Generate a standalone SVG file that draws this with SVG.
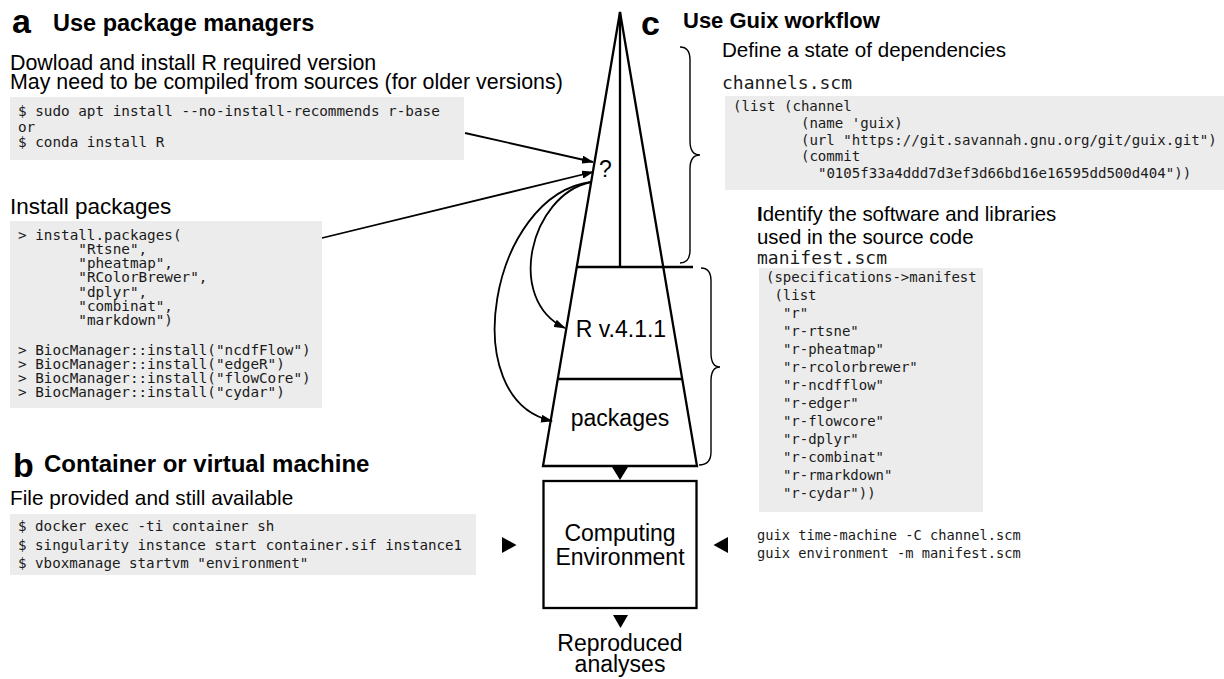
<svg xmlns="http://www.w3.org/2000/svg" width="1224" height="679" viewBox="0 0 1224 679">
<defs>
<style>
.sans{font-family:"Liberation Sans",Arial,Helvetica,sans-serif;fill:#000}
.head{font-family:"Liberation Sans",Arial,Helvetica,sans-serif;font-weight:bold;fill:#000}
.big{font-family:"Liberation Sans",Arial,Helvetica,sans-serif;font-weight:bold;font-size:34px;fill:#000}
.mono{font-family:"DejaVu Sans Mono","Liberation Mono",monospace;fill:#1a1a1a}
.code{fill:#ececec;stroke:none}
.ln{fill:none;stroke:#000;stroke-width:2.3}
.arr{fill:none;stroke:#000;stroke-width:1.8}
.brace{fill:none;stroke:#000;stroke-width:1.4}
.tri{fill:#000;stroke:none}
</style>
<marker id="ah" viewBox="0 0 12 8" refX="11" refY="4" markerWidth="12" markerHeight="8" markerUnits="userSpaceOnUse" orient="auto">
<path d="M0,0 L12,4 L0,8 z" fill="#000"/>
</marker>
</defs>

<g id="panel-a">
<text class="big" x="12" y="33">a</text>
<text class="head" x="53" y="31" font-size="23.5">Use package managers</text>
<text class="sans" x="10" y="70" font-size="21.4">Dowload and install R required version</text>
<text class="sans" x="10" y="89" font-size="21.4">May need to be compiled from sources (for older versions)</text>
</g>

<g id="code-r-install">
<rect class="code" x="10" y="97" width="454" height="63"/>
<text class="mono" font-size="14.3" x="18" y="116">$ sudo apt install --no-install-recommends r-base</text>
<text class="mono" font-size="14.3" x="18" y="131.5">or</text>
<text class="mono" font-size="14.3" x="18" y="147">$ conda install R</text>
</g>

<g id="install-packages">
<text class="sans" x="10" y="214" font-size="22.5">Install packages</text>
<rect class="code" x="10" y="221" width="312" height="187"/>
<g class="mono" font-size="14.3">
<text x="18" y="239.5">&gt; install.packages(</text>
<text x="78.3" y="253.8">"Rtsne",</text>
<text x="78.3" y="268.1">"pheatmap",</text>
<text x="78.3" y="282.4">"RColorBrewer",</text>
<text x="78.3" y="296.7">"dplyr",</text>
<text x="78.3" y="311">"combinat",</text>
<text x="78.3" y="325.3">"markdown")</text>
<text x="18" y="354.5">&gt; BiocManager::install("ncdfFlow")</text>
<text x="18" y="368.8">&gt; BiocManager::install("edgeR")</text>
<text x="18" y="383.1">&gt; BiocManager::install("flowCore")</text>
<text x="18" y="397.4">&gt; BiocManager::install("cydar")</text>
</g>
</g>

<g id="panel-b">
<text class="big" x="13" y="477">b</text>
<text class="head" x="44" y="472" font-size="24">Container or virtual machine</text>
<text class="sans" x="10" y="505" font-size="20.8">File provided and still available</text>
<rect class="code" x="10" y="514" width="466" height="61"/>
<text class="mono" font-size="14.2" x="18" y="531">$ docker exec -ti container sh</text>
<text class="mono" font-size="14.2" x="18" y="549.5">$ singularity instance start container.sif instance1</text>
<text class="mono" font-size="14.2" x="18" y="568">$ vboxmanage startvm "environment"</text>
</g>

<g id="panel-c">
<text class="big" x="641" y="35">c</text>
<text class="head" x="683" y="28" font-size="22">Use Guix workflow</text>
<text class="sans" x="722" y="57" font-size="20.6">Define a state of dependencies</text>
<text class="mono" x="722" y="89" font-size="18">channels.scm</text>
</g>

<g id="channels-code">
<rect class="code" x="725" y="96" width="499" height="94"/>
<g class="mono" font-size="14.1">
<text x="733" y="111">(list (channel</text>
<text x="800.9" y="128">(name 'guix)</text>
<text x="800.9" y="144.5">(url "https://git.savannah.gnu.org/git/guix.git")</text>
<text x="800.9" y="161">(commit</text>
<text x="817.9" y="178">"0105f33a4ddd7d3ef3d66bd16e16595dd500d404"))</text>
</g>
</g>

<g id="manifest">
<text class="sans" x="757" y="221" font-size="20.4"><tspan font-weight="bold">I</tspan>dentify the software and libraries</text>
<text class="sans" x="757" y="244" font-size="20.4">used in the source code</text>
<text class="mono" x="757" y="264" font-size="18">manifest.scm</text>
<rect class="code" x="759" y="268" width="224" height="244"/>
<g class="mono" font-size="14">
<text x="766" y="282">(specifications-&gt;manifest</text>
<text x="774.4" y="300">(list</text>
<text x="782.9" y="318">"r"</text>
<text x="782.9" y="336">"r-rtsne"</text>
<text x="782.9" y="354">"r-pheatmap"</text>
<text x="782.9" y="372">"r-rcolorbrewer"</text>
<text x="782.9" y="390">"r-ncdfflow"</text>
<text x="782.9" y="408">"r-edger"</text>
<text x="782.9" y="426">"r-flowcore"</text>
<text x="782.9" y="444">"r-dplyr"</text>
<text x="782.9" y="462">"r-combinat"</text>
<text x="782.9" y="480">"r-rmarkdown"</text>
<text x="782.9" y="498">"r-cydar"))</text>
</g>
</g>

<g id="guix-commands">
<text class="mono" font-size="13.7" x="757" y="539.5">guix time-machine -C channel.scm</text>
<text class="mono" font-size="13.7" x="757" y="558">guix environment -m manifest.scm</text>
</g>

<g id="stack">
<path class="ln" d="M620,12 L543,466 L697,466 Z" stroke-linejoin="miter"/>
<line class="ln" x1="620" y1="12" x2="620" y2="267"/>
<line class="ln" x1="577" y1="267" x2="693" y2="267"/>
<line class="ln" x1="558" y1="379" x2="682" y2="379"/>
<text class="sans" x="599" y="177" font-size="23">?</text>
<text class="sans" x="621" y="337" font-size="23" text-anchor="middle">R v.4.1.1</text>
<text class="sans" x="620" y="426" font-size="23" text-anchor="middle">packages</text>
</g>

<g id="computing-environment">
<rect class="ln" x="543.5" y="481" width="153" height="127"/>
<text class="sans" x="620" y="541" font-size="23" text-anchor="middle">Computing</text>
<text class="sans" x="620" y="565" font-size="23" text-anchor="middle">Environment</text>
</g>

<g id="reproduced-analyses">
<text class="sans" x="620" y="651" font-size="23" text-anchor="middle">Reproduced</text>
<text class="sans" x="620" y="672" font-size="23" text-anchor="middle">analyses</text>
</g>

<g id="braces">
<path class="brace" d="M680,47 Q690,47 690,60 L690,141 Q690,155 700,155 Q690,155 690,169 L690,250 Q690,263 680,263"/>
<path class="brace" d="M701,268 Q711,268 711,281 L711,353 Q711,367 720,367 Q711,367 711,381 L711,452 Q711,465 699,465"/>
</g>

<g id="connectors">
<line class="arr" x1="465" y1="133" x2="593" y2="162" marker-end="url(#ah)"/>
<line class="arr" x1="322" y1="238" x2="593" y2="172" marker-end="url(#ah)"/>
<path class="arr" d="M591,182 C530,195 505,300 565,328" marker-end="url(#ah)"/>
<path class="arr" d="M591,182 C490,195 455,400 552,421" marker-end="url(#ah)"/>
<polygon class="tri" points="612,467 628,467 620,480"/>
<polygon class="tri" points="613,615 628,615 620.5,628"/>
<polygon class="tri" points="502,537 502,553 516.5,545"/>
<polygon class="tri" points="728,537 728,553 713.5,545"/>
</g>
</svg>
